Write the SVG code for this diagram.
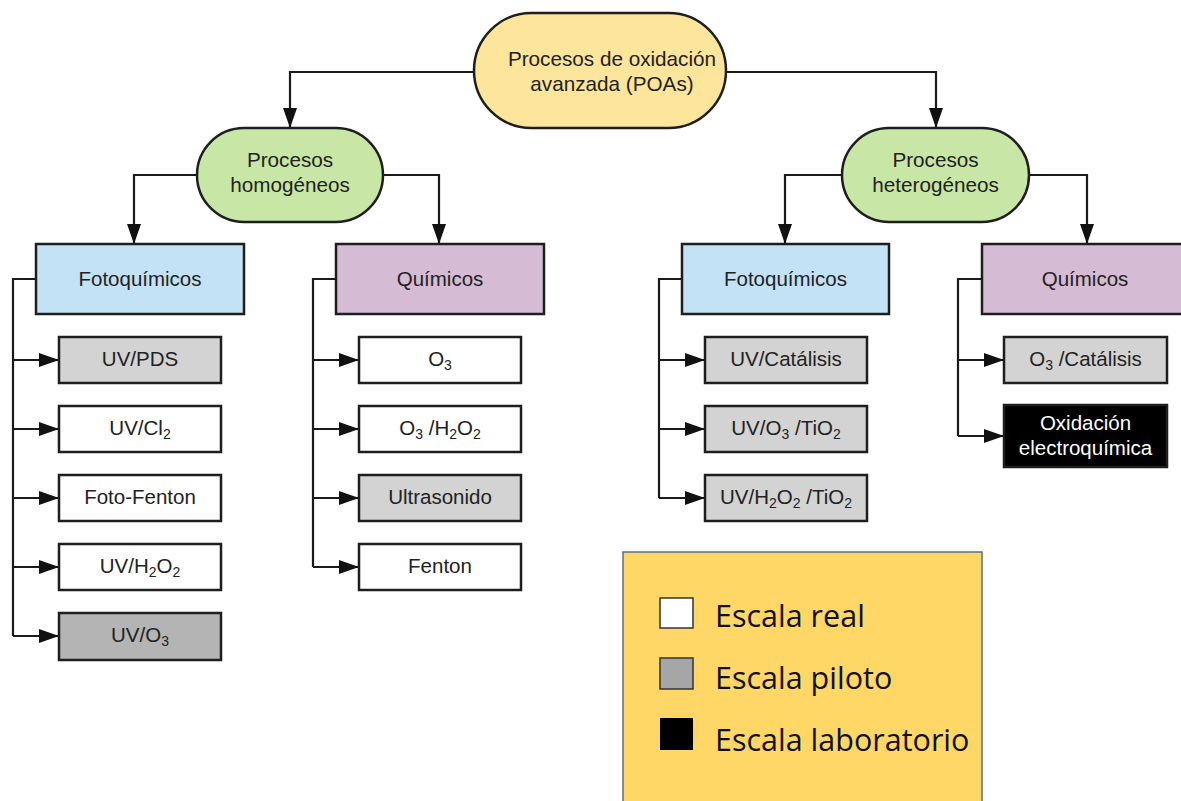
<svg xmlns="http://www.w3.org/2000/svg" width="1181" height="801" viewBox="0 0 1181 801">
<style>
text{font-family:"Liberation Sans",Arial,sans-serif;font-size:20.5px;fill:#222;text-anchor:middle}
.big{font-size:20.7px}
.node{stroke:#1e1e1e;stroke-width:2.5}
.con{fill:none;stroke:#1a1a1a;stroke-width:2.2;marker-end:url(#ah)}
.br{fill:none;stroke:#1a1a1a;stroke-width:2.2}
.sub{font-size:14px}
.leg{font-family:"Open Sans","Liberation Sans",sans-serif;font-size:30.5px;fill:#111;text-anchor:start}
</style>
<defs>
<marker id="ah" viewBox="0 0 20 14" refX="19" refY="7" markerWidth="20" markerHeight="14" markerUnits="userSpaceOnUse" orient="auto">
<path d="M0,0 L20,7 L0,14 Z" fill="#111"/>
</marker>
</defs>
<rect width="1181" height="801" fill="#fff"/>

<g id="connectors">
<path class="con" d="M474,72 H290 V127"/>
<path class="con" d="M726,72 H936 V127"/>
<path class="con" d="M197,175 H134 V243"/>
<path class="con" d="M383,175 H439 V243"/>
<path class="con" d="M842,175 H785 V243"/>
<path class="con" d="M1029,175 H1087 V243"/>
<path class="br" d="M36,279 H13 V636"/>
<path class="con" d="M13,360 H58"/>
<path class="con" d="M13,429 H58"/>
<path class="con" d="M13,498 H58"/>
<path class="con" d="M13,567 H58"/>
<path class="con" d="M13,636 H58"/>
<path class="br" d="M336,279 H313 V567"/>
<path class="con" d="M313,360 H358"/>
<path class="con" d="M313,429 H358"/>
<path class="con" d="M313,498 H358"/>
<path class="con" d="M313,567 H358"/>
<path class="br" d="M682,279 H659 V498"/>
<path class="con" d="M659,360 H704"/>
<path class="con" d="M659,429 H704"/>
<path class="con" d="M659,498 H704"/>
<path class="br" d="M982,279 H958 V436"/>
<path class="con" d="M958,360 H1003"/>
<path class="con" d="M958,436 H1003"/>
</g>

<g id="poas">
<rect class="node" x="474" y="13" width="252" height="115" rx="57.5" fill="#fde59b"/>
<text class="big" x="612" y="66">Procesos de oxidación</text>
<text class="big" x="612" y="91">avanzada (POAs)</text>
</g>
<g id="homogeneos">
<rect class="node" x="197" y="128" width="186" height="94" rx="47" fill="#c8e6a6"/>
<text class="big" x="290" y="167">Procesos</text>
<text class="big" x="290" y="192">homogéneos</text>
</g>
<g id="heterogeneos">
<rect class="node" x="842" y="128" width="187" height="94" rx="47" fill="#c8e6a6"/>
<text class="big" x="935.5" y="167">Procesos</text>
<text class="big" x="935.5" y="192">heterogéneos</text>
</g>

<g id="foto-hom">
<rect class="node" x="36" y="244" width="208" height="70" fill="#c3e2f5"/>
<text x="140" y="286">Fotoquímicos</text>
</g>
<g id="quim-hom">
<rect class="node" x="336" y="244" width="208" height="70" fill="#d5bcd4"/>
<text x="440" y="286">Químicos</text>
</g>
<g id="foto-het">
<rect class="node" x="682" y="244" width="207" height="70" fill="#c3e2f5"/>
<text x="785.5" y="286">Fotoquímicos</text>
</g>
<g id="quim-het">
<rect class="node" x="982" y="244" width="210" height="70" fill="#d5bcd4"/>
<text x="1085" y="286">Químicos</text>
</g>

<g id="uv-pds">
<rect class="node" x="59" y="337" width="162" height="46" fill="#d3d3d3"/>
<text x="140" y="366">UV/PDS</text>
</g>
<g id="uv-cl2">
<rect class="node" x="59" y="406" width="162" height="46" fill="#fff"/>
<text x="140" y="435">UV/Cl<tspan class="sub" dy="4">2</tspan></text>
</g>
<g id="foto-fenton">
<rect class="node" x="59" y="475" width="162" height="46" fill="#fff"/>
<text x="140" y="504">Foto-Fenton</text>
</g>
<g id="uv-h2o2">
<rect class="node" x="59" y="544" width="162" height="46" fill="#fff"/>
<text x="140" y="573">UV/H<tspan class="sub" dy="4">2</tspan><tspan dy="-4">O</tspan><tspan class="sub" dy="4">2</tspan></text>
</g>
<g id="uv-o3">
<rect class="node" x="59" y="613" width="162" height="47" fill="#b4b4b4"/>
<text x="140" y="642">UV/O<tspan class="sub" dy="4">3</tspan></text>
</g>

<g id="o3">
<rect class="node" x="359" y="337" width="162" height="46" fill="#fff"/>
<text x="440" y="366">O<tspan class="sub" dy="4">3</tspan></text>
</g>
<g id="o3-h2o2">
<rect class="node" x="359" y="406" width="162" height="46" fill="#fff"/>
<text x="440" y="435">O<tspan class="sub" dy="4">3</tspan><tspan dy="-4"> /H</tspan><tspan class="sub" dy="4">2</tspan><tspan dy="-4">O</tspan><tspan class="sub" dy="4">2</tspan></text>
</g>
<g id="ultrasonido">
<rect class="node" x="359" y="475" width="162" height="46" fill="#d3d3d3"/>
<text x="440" y="504">Ultrasonido</text>
</g>
<g id="fenton">
<rect class="node" x="359" y="544" width="162" height="46" fill="#fff"/>
<text x="440" y="573">Fenton</text>
</g>

<g id="uv-catalisis">
<rect class="node" x="705" y="337" width="162" height="46" fill="#d3d3d3"/>
<text x="786" y="366">UV/Catálisis</text>
</g>
<g id="uv-o3-tio2">
<rect class="node" x="705" y="406" width="162" height="46" fill="#d3d3d3"/>
<text x="786" y="435">UV/O<tspan class="sub" dy="4">3</tspan><tspan dy="-4"> /TiO</tspan><tspan class="sub" dy="4">2</tspan></text>
</g>
<g id="uv-h2o2-tio2">
<rect class="node" x="705" y="475" width="162" height="46" fill="#d3d3d3"/>
<text x="786" y="504">UV/H<tspan class="sub" dy="4">2</tspan><tspan dy="-4">O</tspan><tspan class="sub" dy="4">2</tspan><tspan dy="-4"> /TiO</tspan><tspan class="sub" dy="4">2</tspan></text>
</g>

<g id="o3-catalisis">
<rect class="node" x="1004" y="337" width="163" height="46" fill="#d3d3d3"/>
<text x="1085.5" y="366">O<tspan class="sub" dy="4">3</tspan><tspan dy="-4"> /Catálisis</tspan></text>
</g>
<g id="oxidacion-electroquimica">
<rect class="node" x="1004" y="405" width="163" height="62" fill="#000"/>
<text x="1085.5" y="430" style="fill:#fff">Oxidación</text>
<text x="1085.5" y="455" style="fill:#fff">electroquímica</text>
</g>

<g id="legend">
<rect x="623" y="552" width="359" height="260" fill="#fed766" stroke="#5b6f8c" stroke-width="1.5"/>
<rect x="660" y="598" width="33" height="30" fill="#fff" stroke="#333" stroke-width="1.5"/>
<rect x="660" y="658" width="33" height="31" fill="#a6a6a6" stroke="#333" stroke-width="1.5"/>
<rect x="660" y="718" width="33" height="32" fill="#000"/>
<text class="leg" x="715" y="627">Escala real</text>
<text class="leg" x="715" y="689">Escala piloto</text>
<text class="leg" x="715" y="751">Escala laboratorio</text>
</g>
</svg>
